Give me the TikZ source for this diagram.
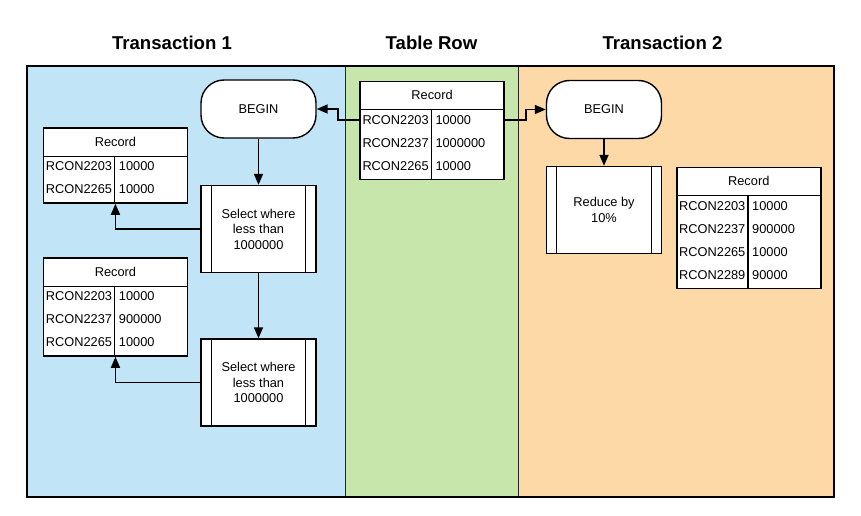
\documentclass[tikz,border=0pt]{standalone}
\usepackage{fontspec}
\setmainfont{Liberation Sans}
\usetikzlibrary{arrows.meta,calc}

\pgfdeclarelayer{lanes}
\pgfsetlayers{lanes,main}

\definecolor{laneblue}{RGB}{193,228,246}
\definecolor{lanegreen}{RGB}{199,230,171}
\definecolor{laneorange}{RGB}{254,217,168}
\definecolor{divider}{RGB}{40,40,40}

\tikzset{
  body/.style={font=\fontsize{12.8}{15.5}\selectfont},
  lanetitle/.style={font=\fontsize{18.6}{22}\selectfont\bfseries},
  terminal/.style={body, draw=black, line width=1.4pt, fill=white,
    rounded corners=23pt, minimum width=115pt, minimum height=58pt, inner sep=0pt},
  process/.style={body, draw=black, line width=1.4pt, fill=white,
    minimum width=115pt, minimum height=87pt, align=center, inner sep=0pt},
  procrule/.style={line width=0.9pt},
  tablebox/.style={draw=black, line width=1.5pt, fill=white, anchor=north west,
    inner sep=0pt, minimum width=144pt},
  tablerule/.style={line width=1.5pt},
  cell/.style={body, anchor=west, inner sep=0pt},
  flow/.style={line width=1.7pt, -{Triangle[length=11pt,width=9pt]}},
}

% #1 name, #2/#3 top-left corner, #4 number of rows, #5 key/value rows
\newcommand\recordtable[5]{%
  \pgfmathsetmacro\tabh{29+#4*23}%
  \node[tablebox, minimum height=\tabh pt] (#1) at (#2,#3) {};
  \node[body] (#1-head) at ($(#1.north)+(0,14.5)$) {Record};
  \draw[tablerule] ($(#1.north west)+(0,29)$) -- ($(#1.north east)+(0,29)$);
  \draw[tablerule] ($(#1.north west)+(72,29)$) -- ($(#1.south west)+(72,0)$);
  \foreach \k/\v [count=\i] in {#5} {
    \node[cell] (#1-k\i) at ($(#1.north west)+(3,29+\i*23-13)$) {\k};
    \node[cell] (#1-v\i) at ($(#1.north west)+(76,29+\i*23-13)$) {\v};
  }%
}

\begin{document}
\begin{tikzpicture}[x=1pt,y=-1pt]
\useasboundingbox (0,0) rectangle (861,516);

% swimlanes
\begin{pgfonlayer}{lanes}
  \fill[laneblue]   (27,66)  rectangle (345,497);
  \fill[lanegreen]  (345,66) rectangle (518,497);
  \fill[laneorange] (518,66) rectangle (834,497);
  \draw[divider, line width=1pt] (345,66) -- (345,497) (518,66) -- (518,497);
  \draw[line width=2pt] (27,66) rectangle (834,497);
\end{pgfonlayer}

\node[lanetitle] (title1) at (172,43) {Transaction 1};
\node[lanetitle] (title2) at (431.5,43) {Table Row};
\node[lanetitle] (title3) at (662.5,43) {Transaction 2};

% terminals
\node[terminal] (b1) at (258.5,109) {BEGIN};
\node[terminal] (b2) at (604,109.5) {BEGIN};

% predefined processes
\node[process] (s1) at (258.5,229) {Select where\\less than\\1000000};
\node[process] (s2) at (258.5,382.5) {Select where\\less than\\1000000};
\node[process] (red) at (604,210) {Reduce by\\10\%};
\foreach \n in {s1,s2,red}
  \draw[procrule] ($(\n.north west)+(11,0)$) -- ($(\n.south west)+(11,0)$)
                  ($(\n.north east)+(-11,0)$) -- ($(\n.south east)+(-11,0)$);

% record tables
\recordtable{rec0}{359.3}{80.7}{3}{RCON2203/10000, RCON2237/1000000, RCON2265/10000}
\recordtable{rec1}{42.7}{127.3}{2}{RCON2203/10000, RCON2265/10000}
\recordtable{rec2}{42.7}{257.3}{3}{RCON2203/10000, RCON2237/900000, RCON2265/10000}
\recordtable{rec3}{676}{166.7}{4}{RCON2203/10000, RCON2237/900000, RCON2265/10000, RCON2289/90000}

% connectors
\draw[flow] (rec0.west |- rec0-k1) -- ++(-21.5,0) |- (b1.east);
\draw[flow] (rec0.east |- rec0-k1) -- ++(21.5,0) |- (b2.west);
\draw[flow] (b1) -- (s1);
\draw[flow] (s1) -- (s2);
\draw[flow] (s1.west) -| (rec1.south);
\draw[flow] (s2.west) -| (rec2.south);
\draw[flow] (b2) -- (red);
\end{tikzpicture}
\end{document}
